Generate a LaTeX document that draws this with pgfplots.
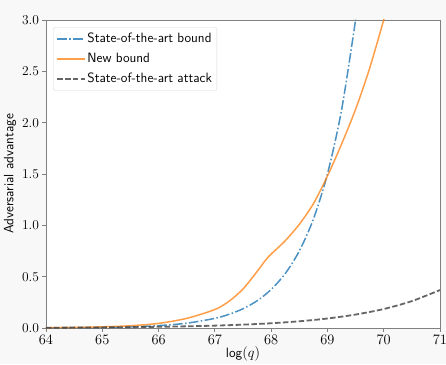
\documentclass[border=0pt]{standalone}
\usepackage{pgfplots}
\pgfplotsset{compat=1.18}
\usetikzlibrary{backgrounds}
\definecolor{figbg}{RGB}{248,248,248}
\definecolor{tabblue}{RGB}{31,119,180}
\definecolor{taborange}{RGB}{255,127,14}
\definecolor{framegray}{RGB}{128,128,128}
\begin{document}
\begin{tikzpicture}
\begin{axis}[
  name=ax,
  at={(0,0)}, anchor=south west,
  scale only axis,
  width=394pt, height=308pt,
  xmin=64, xmax=71, ymin=0, ymax=3,
  xtick={64,65,...,71},
  ytick={0,0.5,1,1.5,2,2.5,3},
  yticklabels={0.0,0.5,1.0,1.5,2.0,2.5,3.0},
  scaled y ticks=false,
  tick align=outside,
  tick pos=left,
  major tick length=3.5pt,
  every tick/.style={framegray, line width=0.8pt},
  axis line style={framegray, line width=0.8pt},
  axis background/.style={fill=white},
  tick label style={font=\fontsize{13.5}{16}\selectfont},
  label style={font=\fontsize{13.5}{16}\sffamily},
  xlabel={log$(q)$},
  ylabel={Adversarial advantage},
  xlabel style={yshift=4pt},
  ylabel style={yshift=-1pt},
  legend style={at={(0.018,0.977)}, anchor=north west, font=\fontsize{13.5}{16}\sffamily,
    draw=black!15, rounded corners=2pt, fill=white, inner xsep=3pt, inner ysep=4pt,
    row sep=5pt},
  legend cell align=left,
  legend image post style={xscale=1.6},
  clip=true,
]
\addplot[color=tabblue, opacity=0.8, line width=1.5pt, dash pattern=on 9.6pt off 2.4pt on 1.5pt off 2.4pt, smooth] coordinates {
(64,0.0015) (64.5,0.0029) (65,0.0059) (65.5,0.0117) (66,0.0234) (66.5,0.0469) (67,0.0938) (67.25,0.133) (67.5,0.1875) (67.75,0.265) (68,0.375) (68.25,0.530) (68.5,0.75) (68.75,1.06) (69,1.5) (69.25,2.12) (69.5,3.0) (69.55,3.22)
};
\addlegendentry{State-of-the-art bound}
\addplot[color=taborange, opacity=0.75, line width=1.5pt, smooth] coordinates {
(64,0.002) (64.5,0.005) (65,0.011) (65.5,0.022) (66,0.045) (66.5,0.094) (67,0.18) (67.25,0.26) (67.5,0.38) (67.75,0.55) (67.9,0.66) (68,0.72) (68.25,0.85) (68.5,1.01) (68.75,1.21) (69,1.48) (69.25,1.79) (69.5,2.13) (69.75,2.53) (70,3.0) (70.05,3.09)
};
\addlegendentry{New bound}
\addplot[color=black!75, opacity=0.8, line width=1.8pt, dash pattern=on 5.5pt off 2.4pt, smooth] coordinates {
(64,0.0029) (64.5,0.0041) (65,0.0058) (65.5,0.0082) (66,0.0116) (66.5,0.0164) (67,0.0231) (67.5,0.0327) (68,0.0463) (68.5,0.0654) (69,0.0925) (69.5,0.131) (70,0.185) (70.5,0.262) (71,0.37)
};
\addlegendentry{State-of-the-art attack}
\node[anchor=south west, inner sep=1pt, font=\fontsize{13.5}{16}\selectfont] at (rel axis cs:0,1) {$\times10^{-36}$};
\end{axis}
\begin{scope}[on background layer]
\fill[figbg] (-46pt,-36pt) rectangle (400pt,328pt);
\end{scope}
\pgfresetboundingbox
\path[use as bounding box] (-46pt,-36pt) rectangle (400pt,328pt);
\end{tikzpicture}
\end{document}
